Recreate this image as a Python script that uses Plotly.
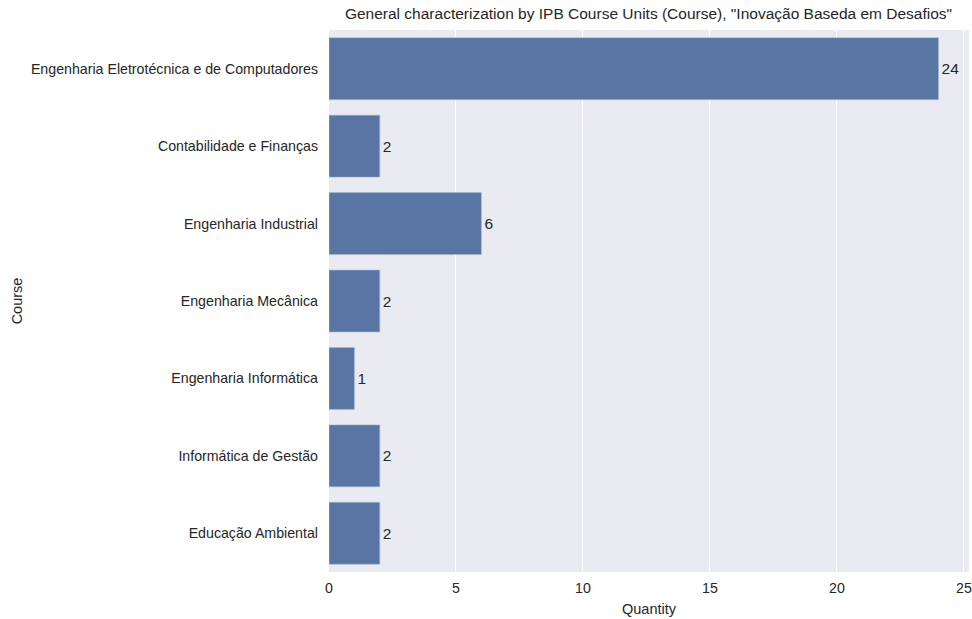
import plotly.graph_objects as go

courses = [
    "Engenharia Eletrotécnica e de Computadores",
    "Contabilidade e Finanças",
    "Engenharia Industrial",
    "Engenharia Mecânica",
    "Engenharia Informática",
    "Informática de Gestão",
    "Educação Ambiental",
]
quantities = [24, 2, 6, 2, 1, 2, 2]
x_ticks = [0, 5, 10, 15, 20, 25]

fig = go.Figure()
fig.add_trace(go.Bar(
    x=quantities, y=courses, orientation="h",
    width=0.8,
    marker=dict(color="#5875a4", line=dict(color="#aab8d0", width=0.6)),
    text=[str(q) for q in quantities],
    textposition="outside",
    textfont=dict(size=15.5, color="#262626"),
    cliponaxis=False,
))

fig.update_layout(
    width=972, height=619,
    margin=dict(l=329, r=3, t=30, b=47, autoexpand=False),
    paper_bgcolor="white",
    plot_bgcolor="#eaeaf2",
    font=dict(family="Liberation Sans, Arial, sans-serif", size=14, color="#262626"),
    title=dict(
        text='General characterization by IPB Course Units (Course), "Inovação Baseda em Desafios"',
        x=648.5 / 972, xref="container", xanchor="center", y=1 - 14 / 619, yanchor="middle",
        font=dict(size=15.5, color="#262626"),
    ),
    showlegend=False,
    bargap=0.2,
)
fig.update_xaxes(
    range=[0, 25.2], tickvals=x_ticks, ticktext=[str(t) for t in x_ticks],
    showgrid=True, gridcolor="white", gridwidth=1, zeroline=False,
    title=dict(text="Quantity", font=dict(size=14.5), standoff=8),
    tickfont=dict(size=14.2), ticks="", showline=False, automargin=False,
    ticklabelstandoff=6,
)
fig.update_yaxes(
    categoryorder="array", categoryarray=courses,
    range=[6.5, -0.5],
    showgrid=False, zeroline=False,
    title=dict(text="Course", font=dict(size=14.5), standoff=4),
    tickfont=dict(size=14.2), ticks="", ticklabelstandoff=10, automargin=False,
)

fig.write_html("out.html", config={"displayModeBar": False},
               post_script="document.body.style.margin='0';")
